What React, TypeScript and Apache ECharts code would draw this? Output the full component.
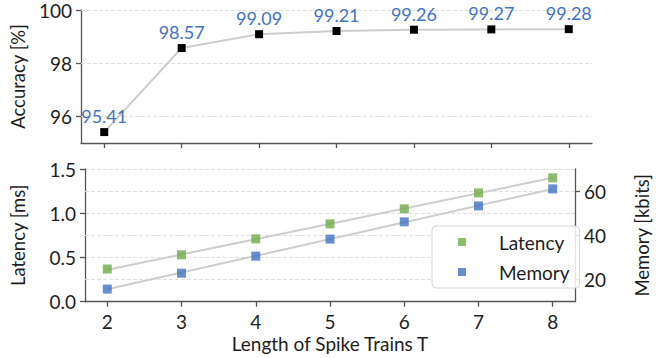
import React, { useEffect, useRef } from "react";
import * as echarts from "echarts";

const tValues = [2, 3, 4, 5, 6, 7, 8];
const accuracy = [95.41, 98.57, 99.09, 99.21, 99.26, 99.27, 99.28];
const latency = [0.37, 0.53, 0.71, 0.88, 1.05, 1.23, 1.4];
const memory = [15.7, 22.9, 30.6, 38.3, 46.1, 53.3, 61.0];
const latencyTrend = [
  [2, 0.36],
  [8, 1.4],
];
const memoryTrend = [
  [2, 15.6],
  [8, 61.0],
];
const accuracyTicks = [96, 98, 100];
const memoryTicks = [20, 40, 60];

const FONT = "Lato";
const TEXT = "#1e1e1e";
const AXIS = "#555555";
const GRIDC = "#e0e0e0";
const GREEN = "#70AD47";
const BLUE = "#4472C4";
const TREND = "#cdcdcd";

export default function App() {
  const ref = useRef<HTMLDivElement>(null);
  useEffect(() => {
    if (!ref.current) return;
    const chart = echarts.init(ref.current, undefined, { renderer: "svg" });
    const axisLine = { show: true, lineStyle: { color: AXIS, width: 1.3 } };
    const axisTick = { show: true, length: 5, lineStyle: { color: AXIS, width: 1.3 } };
    const axisLabel = { color: TEXT, fontSize: 19, fontFamily: FONT };
    const nameStyle = { color: TEXT, fontSize: 18.5, fontFamily: FONT };
    const gridMark = (vals: number[]) => ({
      silent: true,
      symbol: ["none", "none"],
      label: { show: false },
      lineStyle: { type: "dashed", color: GRIDC, width: 1 },
      emphasis: { disabled: true },
      z: 1,
      data: vals.map((v) => ({ yAxis: v })),
    });
    chart.setOption({
      animation: false,
      grid: [
        { left: 79, right: 67, top: 10, height: 133 },
        { left: 79, right: 67, top: 169, height: 132.7 },
      ],
      legend: {
        data: [
          { name: "Latency", icon: "rect" },
          { name: "Memory", icon: "rect" },
        ],
        orient: "vertical",
        left: 432,
        top: 226,
        itemWidth: 8,
        itemHeight: 8,
        itemGap: 10,
        padding: [6, 10, 6, 26],
        borderColor: "#d6d6d6",
        borderWidth: 1,
        borderRadius: 4,
        backgroundColor: "rgba(255,255,255,0.85)",
        textStyle: { fontSize: 19, color: TEXT, fontFamily: FONT, padding: [0, 0, 0, 28], lineHeight: 20 },
      },
      xAxis: [
        {
          type: "value",
          gridIndex: 0,
          min: 1.7,
          max: 8.3,
          axisLine,
          axisTick: { ...axisTick, customValues: tValues },
          axisLabel: { show: false, customValues: tValues },
          splitLine: { show: false },
        },
        {
          type: "value",
          gridIndex: 1,
          min: 1.7,
          max: 8.3,
          axisLine,
          axisTick: { ...axisTick, customValues: tValues },
          axisLabel: { ...axisLabel, margin: 10, customValues: tValues },
          splitLine: { show: false },
          name: "Length of Spike Trains T",
          nameLocation: "middle",
          nameGap: 32,
          nameTextStyle: { ...nameStyle, fontSize: 19 },
        },
      ],
      yAxis: [
        {
          type: "value",
          gridIndex: 0,
          min: 95,
          max: 100,
          axisLine,
          axisTick: { ...axisTick, customValues: accuracyTicks },
          axisLabel: { ...axisLabel, margin: 9, customValues: accuracyTicks },
          splitLine: { show: false },
          name: "Accuracy [%]",
          nameLocation: "middle",
          nameGap: 54,
          nameTextStyle: nameStyle,
        },
        {
          type: "value",
          gridIndex: 1,
          min: 0,
          max: 1.5,
          interval: 0.5,
          axisLine,
          axisTick,
          axisLabel: { ...axisLabel, margin: 9, formatter: (v: number) => v.toFixed(1) },
          splitLine: { show: true, lineStyle: { type: "dashed", color: GRIDC, width: 1 } },
          name: "Latency [ms]",
          nameLocation: "middle",
          nameGap: 58,
          nameTextStyle: nameStyle,
        },
        {
          type: "value",
          gridIndex: 1,
          position: "right",
          min: 10,
          max: 70,
          axisLine,
          axisTick: { ...axisTick, customValues: memoryTicks },
          axisLabel: { ...axisLabel, margin: 9, customValues: memoryTicks },
          splitLine: { show: false },
          name: "Memory [kbits]",
          nameLocation: "middle",
          nameRotate: 90,
          nameGap: 57,
          nameTextStyle: nameStyle,
        },
      ],
      series: [
        {
          name: "Accuracy",
          type: "line",
          xAxisIndex: 0,
          yAxisIndex: 0,
          data: tValues.map((t, i) => [t, accuracy[i]]),
          symbol: "rect",
          symbolSize: 8,
          itemStyle: { color: "#000" },
          lineStyle: { color: TREND, width: 2 },
          label: {
            show: true,
            position: "top",
            distance: 3,
            color: BLUE,
            fontSize: 18,
            fontFamily: FONT,
            formatter: (p: any) => p.value[1].toFixed(2),
          },
          markLine: gridMark(accuracyTicks),
          z: 3,
        },
        {
          name: "LatencyTrend",
          type: "line",
          xAxisIndex: 1,
          yAxisIndex: 1,
          data: latencyTrend,
          symbol: "none",
          lineStyle: { color: TREND, width: 2 },
          z: 2,
        },
        {
          name: "MemoryTrend",
          type: "line",
          xAxisIndex: 1,
          yAxisIndex: 2,
          data: memoryTrend,
          symbol: "none",
          lineStyle: { color: TREND, width: 2 },
          markLine: gridMark(memoryTicks),
          z: 2,
        },
        {
          name: "Latency",
          type: "scatter",
          xAxisIndex: 1,
          yAxisIndex: 1,
          data: tValues.map((t, i) => [t, latency[i]]),
          symbol: "rect",
          symbolSize: 9,
          itemStyle: { color: GREEN },
          z: 3,
        },
        {
          name: "Memory",
          type: "scatter",
          xAxisIndex: 1,
          yAxisIndex: 2,
          data: tValues.map((t, i) => [t, memory[i]]),
          symbol: "rect",
          symbolSize: 9,
          itemStyle: { color: BLUE },
          z: 3,
        },
      ],
    });
    return () => chart.dispose();
  }, []);
  return <div ref={ref} style={{ position: "absolute", left: 0, top: 0, width: 659, height: 358 }} />;
}
